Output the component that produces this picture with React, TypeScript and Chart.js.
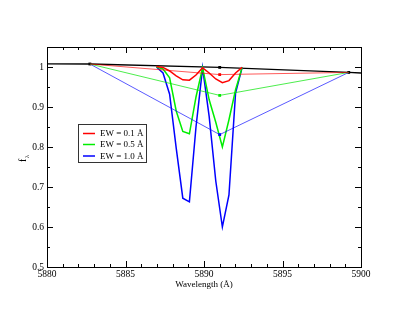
import React, { useEffect, useRef } from "react";
import { Chart, registerables } from "chart.js";

Chart.register(...registerables);

// ---- data ----
const profileWavelengths = [5886.97, 5887.39, 5887.81, 5888.23, 5888.65, 5889.07, 5889.49, 5889.91, 5890.33, 5890.75, 5891.17, 5891.59, 5892.01, 5892.43];
const redProfile = [1.001, 0.999, 0.99, 0.978, 0.968, 0.967, 0.98, 0.998, 0.985, 0.97, 0.961, 0.966, 0.985, 0.999];
const greenProfile = [1.0, 0.995, 0.973, 0.89, 0.839, 0.833, 0.925, 0.998, 0.918, 0.862, 0.8, 0.868, 0.943, 0.999];
const blueProfile = [1.0, 0.985, 0.932, 0.797, 0.672, 0.663, 0.85, 0.998, 0.876, 0.715, 0.6, 0.68, 0.935, 0.999];

const continuumWavelengths = [5880, 5882.73, 5891, 5899.22, 5900];
const continuumFlux = [1.008, 1.0075, 0.999, 0.9865, 0.985];

const triangleWavelengths = [5882.73, 5891, 5899.22];
const redTriangle = [1.0075, 0.981, 0.9865];
const greenTriangle = [1.0075, 0.929, 0.9865];
const blueTriangle = [1.0075, 0.831, 0.9865];

const continuumMarkerWavelengths = [5882.73, 5891, 5899.22];
const continuumMarkerFlux = [1.0075, 0.999, 0.9865];

const legendLabels = ["EW = 0.1 Å", "EW = 0.5 Å", "EW = 1.0 Å"];
const seriesColors = ["#ff0000", "#00ee00", "#0000ff"];
const triangleColors = ["rgba(255,0,0,0.65)", "rgba(0,230,0,0.7)", "rgba(0,0,255,0.65)"];

const xTickValues = [5880, 5885, 5890, 5895, 5900];
const xTickLabels = ["5880", "5885", "5890", "5895", "5900"];
const xMinorTicks = [5881, 5882, 5883, 5884, 5886, 5887, 5888, 5889, 5891, 5892, 5893, 5894, 5896, 5897, 5898, 5899];
const yTickValues = [0.5, 0.6, 0.7, 0.8, 0.9, 1.0];
const yTickLabels = ["0.5", "0.6", "0.7", "0.8", "0.9", "1"];
const yMinorTicks = [0.55, 0.65, 0.75, 0.85, 0.95, 1.05];

const xAxisTitle = "Wavelength (Å)";

const FONT = "'Liberation Serif', 'Times New Roman', serif";

const pts = (xs: number[], ys: number[]) => xs.map((x, i) => ({ x, y: ys[i] }));

const decorPlugin = {
  id: "decor",
  afterDraw(chart: any) {
    const { ctx, chartArea, scales } = chart;
    const { left, right, top, bottom } = chartArea;
    const xs = scales.x;
    const ys = scales.y;
    ctx.save();
    ctx.strokeStyle = "#000";
    ctx.lineWidth = 1;
    ctx.strokeRect(Math.round(left) + 0.5, Math.round(top) + 0.5, Math.round(right - left), Math.round(bottom - top));
    ctx.beginPath();
    const xt = (v: number, len: number) => {
      const p = Math.round(xs.getPixelForValue(v)) + 0.5;
      ctx.moveTo(p, bottom); ctx.lineTo(p, bottom - len);
      ctx.moveTo(p, top); ctx.lineTo(p, top + len);
    };
    const yt = (v: number, len: number) => {
      const p = Math.round(ys.getPixelForValue(v)) + 0.5;
      ctx.moveTo(left, p); ctx.lineTo(left + len, p);
      ctx.moveTo(right, p); ctx.lineTo(right - len, p);
    };
    xTickValues.forEach((v) => xt(v, 6));
    xMinorTicks.forEach((v) => xt(v, 3));
    yTickValues.forEach((v) => yt(v, 6));
    yMinorTicks.forEach((v) => yt(v, 3));
    ctx.stroke();

    // x title
    ctx.fillStyle = "#000";
    ctx.font = `9px ${FONT}`;
    ctx.textAlign = "center";
    ctx.textBaseline = "middle";
    ctx.fillText(xAxisTitle, (left + right) / 2, 285);

    // y title f_lambda
    ctx.save();
    ctx.translate(26, 162);
    ctx.rotate(-Math.PI / 2);
    ctx.textAlign = "left";
    ctx.textBaseline = "alphabetic";
    ctx.font = `10px ${FONT}`;
    ctx.fillText("f", 0, 0);
    const fw = ctx.measureText("f").width;
    ctx.font = `7px ${FONT}`;
    ctx.fillText("λ", fw + 0.5, 3);
    ctx.restore();

    // legend box
    const bx = 78.5, by = 124.5, bw = 68, bh = 38;
    ctx.fillStyle = "#fff";
    ctx.fillRect(bx, by, bw, bh);
    ctx.strokeStyle = "#333";
    ctx.lineWidth = 1;
    ctx.strokeRect(bx, by, bw, bh);
    const rows = [133.5, 144.5, 156];
    ctx.font = `9px ${FONT}`;
    ctx.textAlign = "left";
    ctx.textBaseline = "middle";
    legendLabels.forEach((lab, i) => {
      ctx.strokeStyle = seriesColors[i];
      ctx.lineWidth = 1.5;
      ctx.beginPath();
      ctx.moveTo(83, rows[i]);
      ctx.lineTo(95, rows[i]);
      ctx.stroke();
      ctx.fillStyle = "#000";
      ctx.fillText(lab, 100, rows[i] + 0.5);
    });
    ctx.restore();
  },
};

export default function App() {
  const ref = useRef<HTMLCanvasElement | null>(null);
  useEffect(() => {
    if (!ref.current) return;
    const lineDs = (label: string, data: any[], color: string, width: number, pointRadius = 0) => ({
      label,
      data,
      borderColor: color,
      backgroundColor: color,
      borderWidth: width,
      pointRadius,
      pointStyle: "rect",
      pointBorderWidth: 0,
      tension: 0,
      fill: false,
    });
    const chart = new Chart(ref.current, {
      type: "line",
      data: {
        datasets: [
          lineDs("red tri", pts(triangleWavelengths, redTriangle), triangleColors[0], 1, 0),
          lineDs("green tri", pts(triangleWavelengths, greenTriangle), triangleColors[1], 1, 0),
          lineDs("blue tri", pts(triangleWavelengths, blueTriangle), triangleColors[2], 1, 0),
          lineDs("red center", [{ x: triangleWavelengths[1], y: redTriangle[1] }], seriesColors[0], 0, 2),
          lineDs("green center", [{ x: triangleWavelengths[1], y: greenTriangle[1] }], seriesColors[1], 0, 2),
          lineDs("blue center", [{ x: triangleWavelengths[1], y: blueTriangle[1] }], seriesColors[2], 0, 2),
          lineDs(legendLabels[0], pts(profileWavelengths, redProfile), seriesColors[0], 1.5, 0),
          lineDs(legendLabels[1], pts(profileWavelengths, greenProfile), seriesColors[1], 1.5, 0),
          lineDs(legendLabels[2], pts(profileWavelengths, blueProfile), seriesColors[2], 1.5, 0),
          lineDs("continuum", pts(continuumWavelengths, continuumFlux), "#000", 1.3, 0),
          {
            ...lineDs("continuum markers", pts(continuumMarkerWavelengths, continuumMarkerFlux), "#000", 0, 2),
            showLine: false,
          },
        ],
      },
      options: {
        responsive: false,
        animation: false,
        layout: { padding: { top: 47, right: 46, left: 0, bottom: 0 } },
        plugins: { legend: { display: false }, tooltip: { enabled: false } },
        scales: {
          x: {
            type: "linear",
            min: 5880,
            max: 5900,
            afterBuildTicks: (s: any) => { s.ticks = xTickValues.map((v) => ({ value: v })); },
            afterFit: (s: any) => { s.height = 48; },
            grid: { display: false, drawTicks: false },
            border: { display: false },
            ticks: {
              autoSkip: false,
              maxRotation: 0,
              padding: 2,
              color: "#000",
              font: { family: FONT, size: 9.5 },
              callback: (v: any) => { const i = xTickValues.indexOf(Number(v)); return i >= 0 ? xTickLabels[i] : ""; },
            },
          },
          y: {
            type: "linear",
            min: 0.5,
            max: 1.05,
            afterBuildTicks: (s: any) => { s.ticks = yTickValues.map((v) => ({ value: v })); },
            afterFit: (s: any) => { s.width = 47; },
            grid: { display: false, drawTicks: false },
            border: { display: false },
            ticks: {
              autoSkip: false,
              padding: 3,
              color: "#000",
              font: { family: FONT, size: 9.5 },
              callback: (v: any) => {
                const i = yTickValues.findIndex((t) => Math.abs(t - Number(v)) < 1e-9);
                return i >= 0 ? yTickLabels[i] : "";
              },
            },
          },
        },
      },
      plugins: [decorPlugin],
    } as any);
    return () => chart.destroy();
  }, []);
  return (
    <div style={{ position: "fixed", left: 0, top: 0, width: 407, height: 315, background: "#fff" }}>
      <canvas ref={ref} width={407} height={315} style={{ width: 407, height: 315 }} />
    </div>
  );
}
